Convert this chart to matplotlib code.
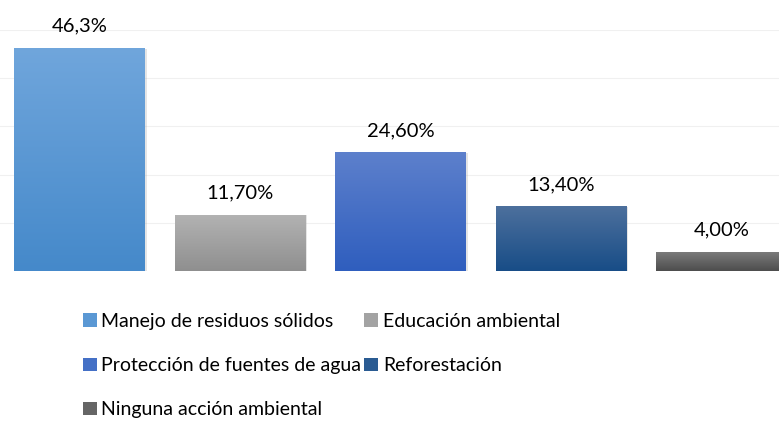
import matplotlib
matplotlib.use("Agg")
import matplotlib.pyplot as plt
import matplotlib.patheffects as pe
import numpy as np
from matplotlib.colors import LinearSegmentedColormap
from matplotlib.patches import Patch

categories = ["Manejo de residuos sólidos", "Educación ambiental",
              "Protección de fuentes de agua", "Reforestación",
              "Ninguna acción ambiental"]
values = [46.3, 11.7, 24.6, 13.4, 4.0]
labels = ["46,3%", "11,70%", "24,60%", "13,40%", "4,00%"]
top_colors = ["#70a6dc", "#b3b3b3", "#5d80cc", "#4d709d", "#7d7d7d"]
bottom_colors = ["#4589ca", "#8f8f8f", "#2f5ebe", "#184d87", "#4d4d4d"]
mid_colors = ["#5a98d4", "#a3a3a3", "#4470c6", "#2a5b92", "#656565"]

plt.rcParams['font.family'] = ['Lato', 'DejaVu Sans']

fig = plt.figure(figsize=(7.79, 4.21), dpi=100)
ax = fig.add_axes([-0.85/779, 150/421, 803/779, 241/421])
ax.set_xlim(-0.5, 4.5)
ax.set_ylim(0, 50)

for y in [10, 20, 30, 40, 50]:
    ax.axhline(y, color="#f0f0f0", lw=0.8, zorder=0)

x = np.arange(len(values))
bars = ax.bar(x, values, width=0.815, color=mid_colors, zorder=2)
for b, tc, bc in zip(bars, top_colors, bottom_colors):
    b.set_path_effects([pe.SimplePatchShadow(offset=(1.2, -0.5), shadow_rgbFace="#999999", alpha=0.25),
                        pe.Normal()])
    cmap = LinearSegmentedColormap.from_list("g", [bc, tc])
    x0, y0 = b.get_x(), b.get_y()
    w, h = b.get_width(), b.get_height()
    grad = np.linspace(0, 1, 256).reshape(-1, 1)
    im = ax.imshow(grad, cmap=cmap, aspect="auto", origin="lower",
                   extent=(x0, x0 + w, y0, y0 + h), zorder=3)
    im.set_clip_path(b)

for xi, v, lab in zip(x, values, labels):
    ax.annotate(lab, (xi, v), xytext=(0, 9.5), textcoords="offset points",
                ha="center", va="bottom", fontsize=14.5, color="#000000",
                clip_on=False, zorder=5)

ax.set_xlim(-0.5, 4.5)
ax.set_ylim(0, 50)
ax.axis("off")

order = [0, 2, 4, 1, 3]
handles = [Patch(facecolor=mid_colors[i], edgecolor="none") for i in order]
leg_labels = [categories[i] for i in order]
fig.legend(handles, leg_labels, loc="upper left", bbox_to_anchor=(83/779, 1 - 313/421),
           ncol=2, frameon=False, fontsize=14, handlelength=0.7, handleheight=0.7,
           handletextpad=0.25, columnspacing=0.15, labelspacing=1.4, borderpad=0,
           borderaxespad=0, labelcolor="#000000")

fig.savefig("out.png", dpi=100)
